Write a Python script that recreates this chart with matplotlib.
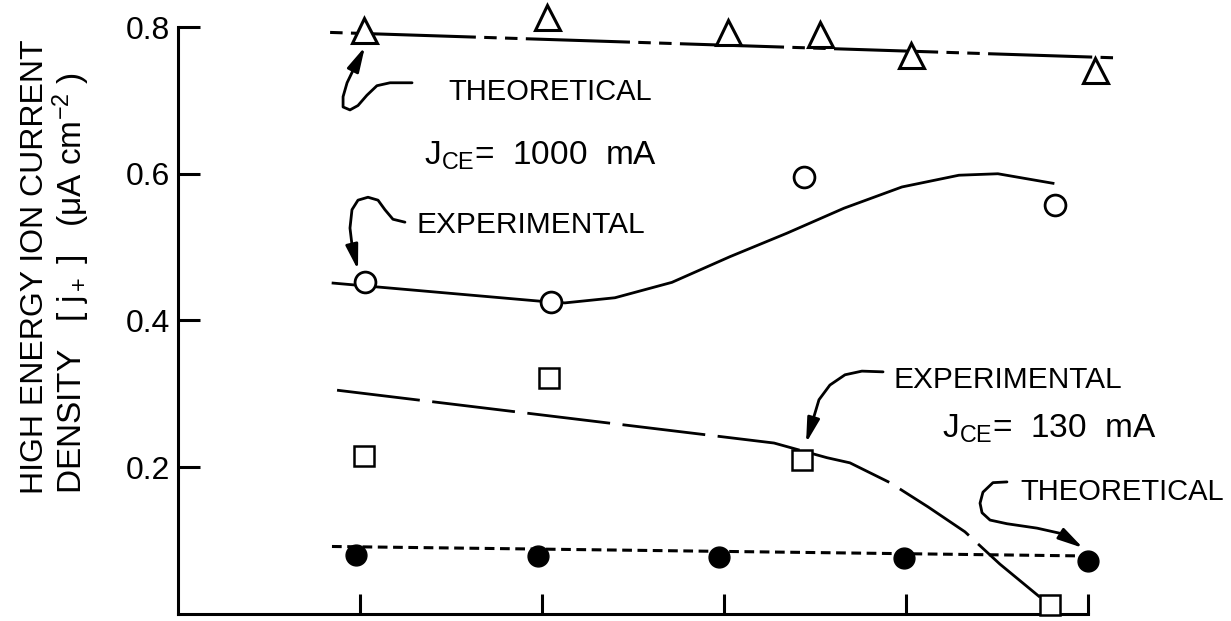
import numpy as np
import matplotlib.pyplot as plt
from matplotlib.patches import FancyArrowPatch
from matplotlib.path import Path

plt.rcParams['font.family'] = ['Liberation Sans', 'DejaVu Sans']
plt.rcParams['mathtext.fontset'] = 'custom'
plt.rcParams['mathtext.rm'] = 'Liberation Sans'
plt.rcParams['mathtext.it'] = 'Liberation Sans:italic'
plt.rcParams['lines.scale_dashes'] = False

# J_CE = 1000 mA
tri_x = [1.02, 2.03, 3.02, 3.53, 4.03, 5.04]
tri_y = [0.796, 0.814, 0.793, 0.791, 0.762, 0.741]
theo_hi_x = [0.79, 5.15]
theo_hi_y = [0.793, 0.758]

circ_x = [1.03, 2.05, 3.44, 4.82]
circ_y = [0.452, 0.425, 0.596, 0.557]
exp_hi_x = [0.852, 2.05, 2.126, 2.401, 2.714, 3.033, 3.346, 3.659, 3.978, 4.291, 4.505, 4.808]
exp_hi_y = [0.451, 0.425, 0.424, 0.431, 0.452, 0.487, 0.519, 0.553, 0.582, 0.598, 0.600, 0.587]

# J_CE = 130 mA
sq_x = [1.02, 2.04, 3.43, 4.79]
sq_y = [0.215, 0.321, 0.210, 0.012]
exp_lo_x = [0.874, 3.275, 3.566, 3.692, 3.912, 4.121, 4.324, 4.516, 4.736]
exp_lo_y = [0.305, 0.233, 0.213, 0.206, 0.179, 0.146, 0.112, 0.068, 0.023]

dot_x = [0.98, 1.98, 2.97, 3.99, 5.0]
dot_y = [0.080, 0.079, 0.078, 0.076, 0.072]
theo_lo_x = [0.846, 5.01]
theo_lo_y = [0.092, 0.079]

yticks = [0.2, 0.4, 0.6, 0.8]
ytick_labels = ['0.2', '0.4', '0.6', '0.8']
xticks = [1, 2, 3, 4, 5]

# curly leader arrows, from the label end to the tip
arrow_theo_hi = [(1.286, 0.724), (1.165, 0.724), (1.093, 0.720), (1.038, 0.707),
                 (0.989, 0.693), (0.945, 0.687), (0.907, 0.691), (0.907, 0.705),
                 (0.929, 0.724), (0.962, 0.741), (1.027, 0.773)]
arrow_exp_hi = [(1.247, 0.534), (1.181, 0.538), (1.137, 0.551), (1.099, 0.564),
                (1.044, 0.568), (0.989, 0.564), (0.956, 0.551), (0.945, 0.526),
                (0.956, 0.503), (0.989, 0.469)]
arrow_exp_lo = [(3.874, 0.330), (3.758, 0.331), (3.665, 0.326), (3.582, 0.312),
                (3.522, 0.292), (3.451, 0.233)]
arrow_theo_lo = [(4.555, 0.180), (4.478, 0.179), (4.423, 0.166), (4.407, 0.151),
                 (4.418, 0.138), (4.462, 0.128), (4.555, 0.123), (4.720, 0.117),
                 (4.846, 0.110), (4.973, 0.090)]


def curly_arrow(ax, pts):
    path = Path(pts)
    arr = FancyArrowPatch(path=path, arrowstyle='-|>,head_length=0.6,head_width=0.15',
                          mutation_scale=25, lw=2.0, color='black',
                          transform=ax.transData, clip_on=False, zorder=5)
    ax.add_patch(arr)


fig = plt.figure(figsize=(12.31, 6.21), dpi=100)
ax = fig.add_axes([0.1446, 0.0113, 0.7392, 0.9452])

# theoretical lines
ax.plot(theo_hi_x, theo_hi_y, color='black', lw=2.2,
        linestyle=(75, (75, 6, 9, 6, 9, 6)), clip_on=False, zorder=2)
ax.plot(theo_lo_x, theo_lo_y, color='black', lw=2.2,
        linestyle=(0, (7, 4)), clip_on=False, zorder=2)
# experimental fits
ax.plot(exp_hi_x, exp_hi_y, color='black', lw=2.0, clip_on=False, zorder=2)
ax.plot(exp_lo_x, exp_lo_y, color='black', lw=2.0,
        linestyle=(0, (60, 9)), clip_on=False, zorder=2)

# points
ax.plot(tri_x, tri_y, '^', ms=18, mfc='white', mec='black', mew=2.2,
        clip_on=False, zorder=4)
ax.plot(circ_x, circ_y, 'o', ms=15, mfc='white', mec='black', mew=2.0,
        clip_on=False, zorder=4)
ax.plot(sq_x, sq_y, 's', ms=15, mfc='white', mec='black', mew=1.8,
        clip_on=False, zorder=4)
ax.plot(dot_x, dot_y, 'o', ms=15, color='black', clip_on=False, zorder=4)

for pts in [arrow_theo_hi, arrow_exp_hi, arrow_exp_lo, arrow_theo_lo]:
    curly_arrow(ax, pts)

ax.text(1.484, 0.7005, 'THEORETICAL', fontsize=21, va='baseline')
ax.text(1.352, 0.612, r'J$_{\rm CE}$=  1000  mA', fontsize=24, va='baseline')
ax.text(1.313, 0.519, 'EXPERIMENTAL', fontsize=21.5, va='baseline')
ax.text(3.929, 0.308, 'EXPERIMENTAL', fontsize=21.5, va='baseline')
ax.text(4.198, 0.241, r'J$_{\rm CE}$=  130  mA', fontsize=24, va='baseline')
ax.text(4.626, 0.155, 'THEORETICAL', fontsize=21, va='baseline')

ax.set_xlim(0, 5)
ax.set_ylim(0, 0.8)
ax.set_xticks(xticks)
ax.set_xticklabels([])
ax.set_yticks(yticks)
ax.set_yticklabels(ytick_labels, fontsize=23)
ax.tick_params(axis='y', direction='in', length=16, width=2.2, pad=6)
ax.tick_params(axis='x', direction='in', length=14.5, width=2.2)
for side in ['top', 'right']:
    ax.spines[side].set_visible(False)
for side in ['left', 'bottom']:
    ax.spines[side].set_linewidth(2.2)

fig.text(35 / 1231, 0.2045, 'HIGH ENERGY ION CURRENT', rotation=90,
         fontsize=23, ha='center', va='bottom')
fig.text(71 / 1231, 0.2045, r'DENSITY   [ j$_+$ ]   (μA cm$^{-2}$ )', rotation=90,
         fontsize=24, ha='center', va='bottom')

fig.savefig('out.png', dpi=100)
